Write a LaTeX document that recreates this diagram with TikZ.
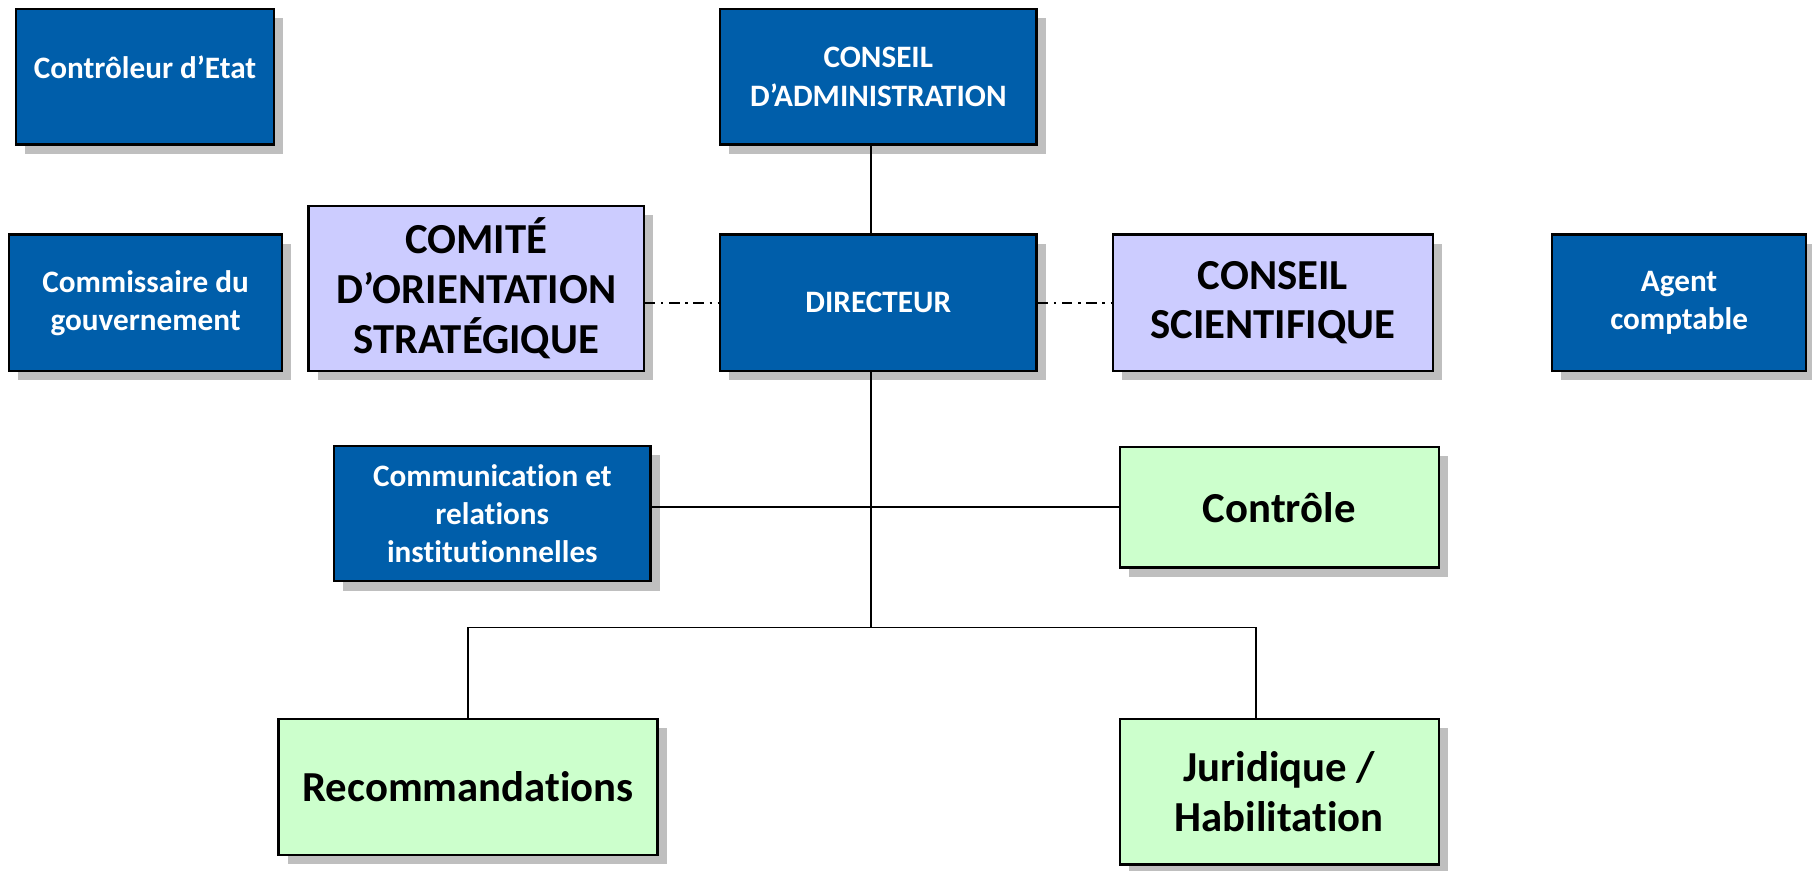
\documentclass[tikz,border=0pt]{standalone}
\usepackage{fontspec}
\setmainfont{Carlito}[Ligatures=NoCommon]
\usetikzlibrary{shadows}

\definecolor{orgblue}{RGB}{0,94,170}
\definecolor{orglilac}{RGB}{204,204,255}
\definecolor{orggreen}{RGB}{204,255,204}
\definecolor{shadowgray}{RGB}{191,191,191}

\newcommand{\smalltxt}{\fontsize{27}{33}\selectfont\bfseries}
\newcommand{\bigtxt}{\fontsize{37}{43}\selectfont\bfseries}

\tikzset{
  unit/.style={draw=black, line width=2pt, inner sep=0pt, align=center,
    drop shadow={shadow xshift=8pt, shadow yshift=-8pt, fill=shadowgray, opacity=1}},
  bluebox/.style={unit, fill=orgblue, text=white, font=\smalltxt},
  lilacbox/.style={unit, fill=orglilac, font=\bigtxt},
  greenbox/.style={unit, fill=orggreen, font=\bigtxt},
  link/.style={line width=1.7pt},
  dotlink/.style={line width=1.7pt, dash pattern=on 9pt off 5pt on 2pt off 5pt}
}

\begin{document}
\begin{tikzpicture}[x=1pt, y=1pt]
      \useasboundingbox (0,0) rectangle (1568,-753);

      % Set up nodes
      \node[bluebox, minimum width=223pt, minimum height=117pt, text depth=17pt] (ctrl) at (125.5,-66.5) {Contrôleur d’Etat};
      \node[bluebox, minimum width=236pt, minimum height=118pt] (comm) at (126,-262) {Commissaire du\\gouvernement};
      \node[lilacbox, minimum width=290pt, minimum height=143pt] (cos) at (412,-249.5) {COMITÉ\\D’ORIENTATION\\STRATÉGIQUE};
      \node[bluebox, minimum width=274pt, minimum height=117pt] (ca) at (760,-66.5) {CONSEIL\\D’ADMINISTRATION};
      \node[bluebox, minimum width=274pt, minimum height=118pt] (dir) at (760,-262) {DIRECTEUR};
      \node[lilacbox, minimum width=277pt, minimum height=118pt] (cs) at (1101.5,-262) {CONSEIL\\SCIENTIFIQUE};
      \node[bluebox, minimum width=220pt, minimum height=118pt] (ac) at (1453,-262) {Agent\\comptable};
      \node[bluebox, minimum width=274pt, minimum height=117pt] (com) at (426,-444.5) {Communication et\\relations\\institutionnelles};
      \node[greenbox, minimum width=276pt, minimum height=104pt] (ctl) at (1107,-439) {Contrôle};
      \node[greenbox, minimum width=328pt, minimum height=118pt] (rec) at (405,-681) {Recommandations};
      \node[greenbox, minimum width=276pt, minimum height=126pt] (jur) at (1107,-685) {Juridique /\\Habilitation};

      % Draw links
      \coordinate (fork) at (754,-543);
      \draw[link] ([xshift=-6pt]ca.south) -- ([xshift=-6pt]dir.north);
      \draw[link] ([xshift=-6pt]dir.south) -- (fork);
      \draw[link] (com.east |- ctl.west) -- (ctl.west);
      \draw[link] (rec.north) |- (fork) -| ([xshift=-20pt]jur.north);
      \draw[dotlink] (cos.east |- dir.west) -- (dir.west);
      \draw[dotlink] (dir.east) -- (cs.west);

    \end{tikzpicture}
\end{document}
